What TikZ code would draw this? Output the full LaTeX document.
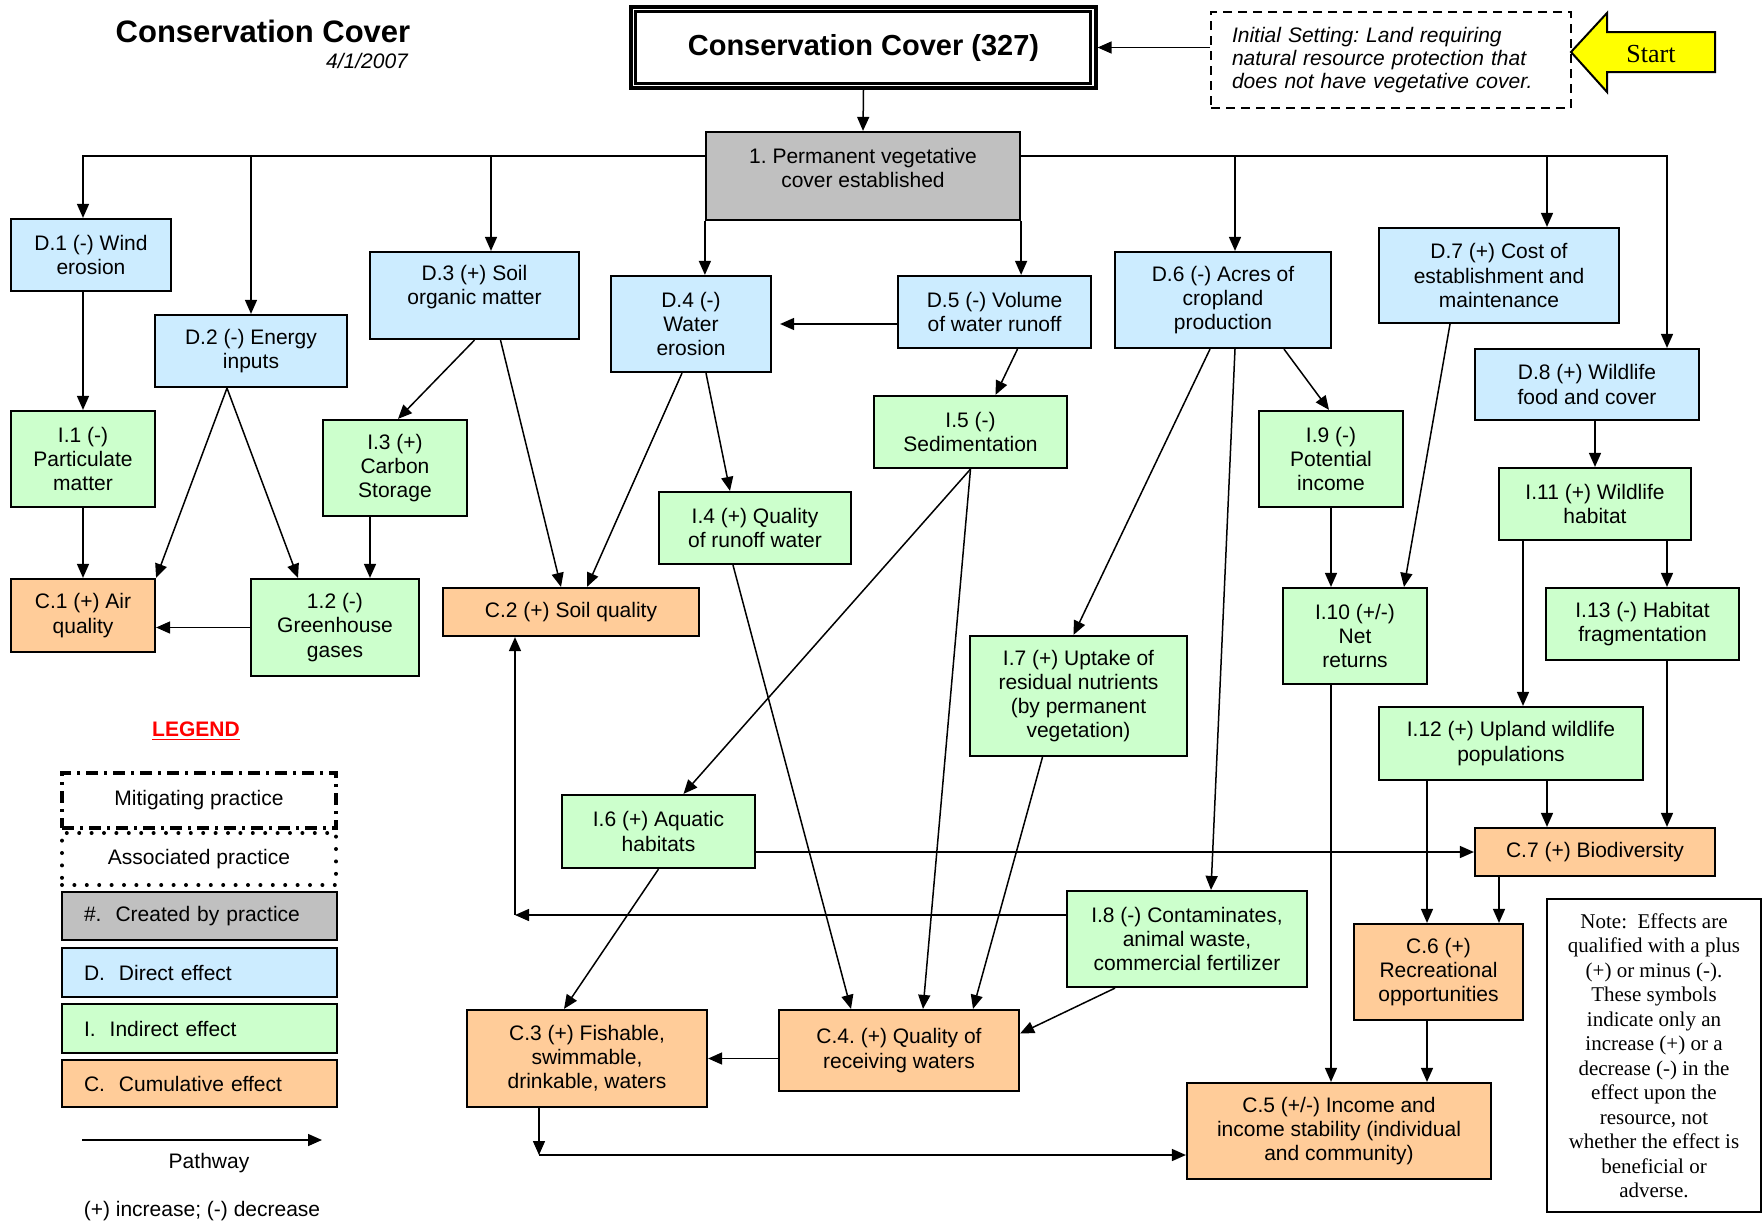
\documentclass[tikz,border=0pt]{standalone}
\usepackage{fontspec}
\setmainfont{Liberation Sans}
\newfontfamily\seriffont{Liberation Serif}
\usetikzlibrary{arrows.meta,calc}
\frenchspacing

\definecolor{dblue}{HTML}{CCECFF}
\definecolor{igreen}{HTML}{CCFFCC}
\definecolor{corange}{HTML}{FFCC99}
\definecolor{pgray}{HTML}{C0C0C0}
\definecolor{startyellow}{HTML}{FFFF00}
\definecolor{legendred}{HTML}{FF0000}

% box from its corners: name, style, x1, y1, x2, y2, text
\newcommand\effbox[7]{%
  \node[#2, minimum width={(#5-#3)*0.5pt}, minimum height={(#6-#4)*0.5pt}]
    (#1) at ({(#3+#5)/2},{(#4+#6)/2}) {#7};}

\tikzset{
  box/.style={draw, line width=1.1pt, inner sep=0pt, align=center,
    font=\fontsize{10.5}{12.1}\selectfont},
  dbox/.style={box, fill=dblue},
  ibox/.style={box, fill=igreen},
  cbox/.style={box, fill=corange},
  legbox/.style={box, align=left, text width=115.5pt},
  link/.style={line width=0.75pt, -{Triangle[length=7pt,width=6pt]}},
  plain/.style={line width=0.75pt},
}

\begin{document}
\begin{tikzpicture}[x=0.5pt,y=-0.5pt]
\useasboundingbox (0,0) rectangle (1763,1222);
\fill[white] (0,0) rectangle (1763,1222);

% heading
\node[font=\fontsize{15.5}{18}\selectfont\bfseries] (title) at (263,31) {Conservation Cover};
\node[font=\fontsize{10.5}{12}\selectfont\itshape, anchor=east] (date) at (415,61) {4/1/2007};

% practice and setting
\effbox{cons}{draw, line width=1.6pt, inner sep=0pt, font=\fontsize{14.5}{17}\selectfont\bfseries}{631}{7}{1096}{88}{Conservation Cover (327)}
\draw[line width=1.2pt] ([shift={(6,6)}]cons.north west) rectangle ([shift={(-7,-6)}]cons.south east);

\effbox{init}{draw, dash pattern=on 4.5pt off 3pt, line width=0.9pt, inner sep=0pt, align=left,
  text width=159pt, font=\fontsize{10.5}{11.7}\selectfont\itshape}{1211}{12}{1571}{108}%
  {Initial Setting: Land requiring\\natural resource protection that\\does not have vegetative cover.}

\draw[fill=startyellow, line width=1pt] (1571,52) -- (1607,13) -- (1607,32) -- (1715,32)
  -- (1715,72) -- (1607,72) -- (1607,92) -- cycle;
\node[font=\seriffont\fontsize{13}{15}\selectfont] (startlbl) at (1651,54) {Start};

\effbox{n1}{box, fill=pgray}{706}{132}{1020}{220}{}
\node[font=\fontsize{10.5}{12.1}\selectfont, align=center] (n1text) at (863,168)
  {1. Permanent vegetative\\cover established};

% direct effects
\effbox{d1}{dbox}{11}{219}{171}{291}{D.1 (-) Wind\\erosion}
\effbox{d2}{dbox}{155}{315}{347}{387}{D.2 (-) Energy\\inputs}
\effbox{d3}{dbox}{370}{252}{579}{339}{}
\node[font=\fontsize{10.5}{12.1}\selectfont, align=center] (d3text) at (474.5,287)
  {D.3 (+) Soil\\organic matter};
\effbox{d4}{dbox}{611}{276}{771}{372}{D.4 (-)\\Water\\erosion}
\effbox{d5}{dbox}{898}{276}{1091}{348}{D.5 (-) Volume\\of water runoff}
\effbox{d6}{dbox}{1115}{252}{1331}{348}{D.6 (-) Acres of\\cropland\\production}
\effbox{d7}{dbox}{1379}{228}{1619}{323}{D.7 (+) Cost of\\establishment and\\maintenance}
\effbox{d8}{dbox}{1475}{349}{1699}{420}{D.8 (+) Wildlife\\food and cover}

% indirect effects
\effbox{i1}{ibox}{11}{411}{155}{507}{I.1 (-)\\Particulate\\matter}
\effbox{g12}{ibox}{251}{579}{419}{676}{1.2 (-)\\Greenhouse\\gases}
\effbox{i3}{ibox}{323}{420}{467}{516}{I.3 (+)\\Carbon\\Storage}
\effbox{i4}{ibox}{659}{492}{851}{564}{I.4 (+) Quality\\of runoff water}
\effbox{i5}{ibox}{874}{396}{1067}{468}{I.5 (-)\\Sedimentation}
\effbox{i6}{ibox}{562}{795}{755}{868}{I.6 (+) Aquatic\\habitats}
\effbox{i7}{ibox}{970}{636}{1187}{756}{I.7 (+) Uptake of\\residual nutrients\\(by permanent\\vegetation)}
\effbox{i8}{ibox}{1067}{891}{1307}{987}{I.8 (-) Contaminates,\\animal waste,\\commercial fertilizer}
\effbox{i9}{ibox}{1259}{411}{1403}{507}{I.9 (-)\\Potential\\income}
\effbox{i10}{ibox}{1283}{588}{1427}{684}{I.10 (+/-)\\Net\\returns}
\effbox{i11}{ibox}{1499}{468}{1691}{540}{I.11 (+) Wildlife\\habitat}
\effbox{i12}{ibox}{1379}{707}{1643}{780}{I.12 (+) Upland wildlife\\populations}
\effbox{i13}{ibox}{1546}{588}{1739}{660}{I.13 (-) Habitat\\fragmentation}

% cumulative effects
\effbox{c1}{cbox}{11}{579}{155}{652}{C.1 (+) Air\\quality}
\effbox{c2}{cbox}{443}{588}{699}{636}{C.2 (+) Soil quality}
\effbox{c3}{cbox}{467}{1010}{707}{1107}{C.3 (+) Fishable,\\swimmable,\\drinkable, waters}
\effbox{c4}{cbox}{779}{1010}{1019}{1091}{C.4. (+) Quality of\\receiving waters}
\effbox{c5}{cbox}{1187}{1083}{1491}{1179}{C.5 (+/-) Income and\\income stability (individual\\and community)}
\effbox{c6}{cbox}{1354}{924}{1523}{1020}{C.6 (+)\\Recreational\\opportunities}
\effbox{c7}{cbox}{1475}{828}{1715}{876}{C.7 (+) Biodiversity}

% note
\effbox{note}{draw, line width=1pt, inner sep=0pt, align=center,
  font=\seriffont\fontsize{10.5}{12.25}\selectfont}{1547}{899}{1761}{1212}%
  {Note:\ \ Effects are\\qualified with a plus\\(+) or minus (-).\\These symbols\\indicate only an\\increase (+) or a\\decrease (-) in the\\effect upon the\\resource, not\\whether the effect is\\beneficial or\\adverse.}

% legend
\node[font=\fontsize{10.5}{12}\selectfont\bfseries, text=legendred] (legtitle) at (196,731) {\underline{LEGEND}};
\effbox{lmit}{box, line width=1.6pt, dash pattern=on 6pt off 3pt on 1.5pt off 3pt}{62}{773}{336}{828}{Mitigating practice}
\effbox{lass}{box, line width=2pt, line cap=round, dash pattern=on 0pt off 6.2pt}{62}{833}{336}{885}{Associated practice}
\effbox{lgray}{legbox, fill=pgray}{62}{892}{337}{940}{\#.\ \ Created by practice}
\effbox{lblue}{legbox, fill=dblue}{62}{948}{337}{997}{D.\ \ Direct effect}
\effbox{lgreen}{legbox, fill=igreen}{62}{1004}{337}{1053}{I.\ \ Indirect effect}
\effbox{lorange}{legbox, fill=corange}{62}{1060}{337}{1107}{C.\ \ Cumulative effect}
\coordinate (pwA) at (82,1140);
\coordinate (pwB) at (322,1140);
\draw[link] (pwA) -- (pwB);
\node[font=\fontsize{10.5}{12}\selectfont] (pwlabel) at (209,1163) {Pathway};
\node[font=\fontsize{10.5}{12}\selectfont] (pmlabel) at (202,1211) {(+) increase; (-) decrease};

% spine
\draw[link] (cons.south) -- (n1.north);
\draw[link] (init.west |- cons.east) -- (cons.east);

% distribution bus from the practice effect
\coordinate (busL) at (83,156);
\coordinate (busD2) at (251,156);
\coordinate (busD3) at (491,156);
\coordinate (busR) at (1667,156);
\coordinate (busD6) at (1235,156);
\coordinate (busD7) at (1547,156);
\draw[link] (n1.west |- busL) -| (busL |- d1.north);
\draw[link] (busD2) -- (busD2 |- d2.north);
\draw[link] (busD3) -- (busD3 |- d3.north);
\draw[link] (n1.east |- busR) -| (busR |- d8.north);
\draw[link] (busD6) -- (busD6 |- d6.north);
\draw[link] (busD7) -- (busD7 |- d7.north);
\draw[link] (n1.south west) -- (n1.south west |- d4.north);
\draw[link] (n1.south east) -- (n1.south east |- d5.north);

% direct to indirect / cumulative
\draw[link] (d5.west |- d4.east) -- ($(d4.east)+(8,0)$);
\draw[link] (i1.north |- d1.south) -- (i1.north);
\draw[link] (i1.south) -- (c1.north);
\draw[link] ($(d2.south)+(-24,0)$) -- (c1.north east);
\draw[link] ($(d2.south)+(-24,0)$) -- ($(g12.north)+(-37,0)$);
\draw[link] (d3.south) -- ($(i3.north)+(3,0)$);
\draw[link] ($(d3.south)+(26,0)$) -- ($(c2.north)+(-10,0)$);
\coordinate (i3out) at ($(i3.south)+(-25,0)$);
\draw[link] (i3out) -- (i3out |- g12.north);
\draw[link] (g12.west) -- (c1.east |- g12.west);
\draw[link] ($(d4.south)+(-9,0)$) -- ($(c2.north)+(16,0)$);
\draw[link] ($(d4.south)+(15,0)$) -- ($(i4.north)+(-25,0)$);
\draw[link] ($(d5.south)+(23,0)$) -- ($(i5.north)+(25,0)$);
\draw[link] ($(d6.south)+(-13,0)$) -- ($(i7.north)+(-5,0)$);
\draw[link] ($(d6.south)+(12,0)$) -- ($(i8.north)+(24,0)$);
\draw[link] ($(d6.south)+(61,0)$) -- ($(i9.north)+(-2,0)$);
\draw[link] ($(d7.south)+(-49,0)$) -- ($(i10.north)+(49,0)$);
\draw[link] (i11.north |- d8.south) -- (i11.north);
\draw[link] (i9.south) -- (i9.south |- i10.north);

% water pathways
\draw[link] (i5.south) -- ($(i6.north)+(25,0)$);
\draw[link] (i5.south) -- ($(c4.north)+(24,0)$);
\draw[link] ($(i4.south)+(-22,0)$) -- ($(c4.north)+(-48,0)$);
\draw[link] ($(i7.south)+(-36,0)$) -- ($(c4.north)+(74,0)$);
\draw[link] ($(i8.south)+(-72,0)$) -- ($(c4.east)+(0,-17)$);
\coordinate (i8w) at ($(i8.west)+(0,-24)$);
\coordinate (c2in) at ($(c2.south)+(-56,0)$);
\coordinate (c2turn) at (c2in |- i8w);
\draw[link] (i8w) -- (c2turn);
\draw[link] (c2turn) -- (c2in);
\draw[link] (i6.east |- c7.west) -- (c7.west);
\draw[link] (i6.south) -- ($(c3.north)+(-23,0)$);
\draw[link] (c4.west |- c3.east) -- (c3.east);
\coordinate (c3out) at ($(c3.south)+(-48,0)$);
\coordinate (c5in) at ($(c5.west)+(0,24)$);
\coordinate (c5turn) at (c3out |- c5in);
\draw[link] (c3out) -- (c5turn);
\draw[link] (c5turn) -- (c5in);

% income and wildlife pathways
\coordinate (i10out) at ($(i10.south)+(-24,0)$);
\draw[link] (i10out) -- (i10out |- c5.north);
\coordinate (i11r) at ($(i11.south)+(72,0)$);
\draw[link] (i11r) -- (i11r |- i13.north);
\coordinate (i11l) at ($(i11.south)+(-72,0)$);
\draw[link] (i11l) -- (i11l |- i12.north);
\coordinate (i12l) at ($(i12.south)+(-84,0)$);
\draw[link] (i12l) -- (i12l |- c6.north);
\coordinate (i12r) at ($(i12.south)+(36,0)$);
\draw[link] (i12r) -- (i12r |- c7.north);
\coordinate (i13out) at ($(i13.south)+(24.5,0)$);
\draw[link] (i13out) -- (i13out |- c7.north);
\coordinate (c7out) at ($(c7.south)+(-96,0)$);
\draw[link] (c7out) -- (c7out |- c6.north);
\coordinate (c6out) at ($(c6.south)+(-11.5,0)$);
\draw[link] (c6out) -- (c6out |- c5.north);
\end{tikzpicture}
\end{document}
